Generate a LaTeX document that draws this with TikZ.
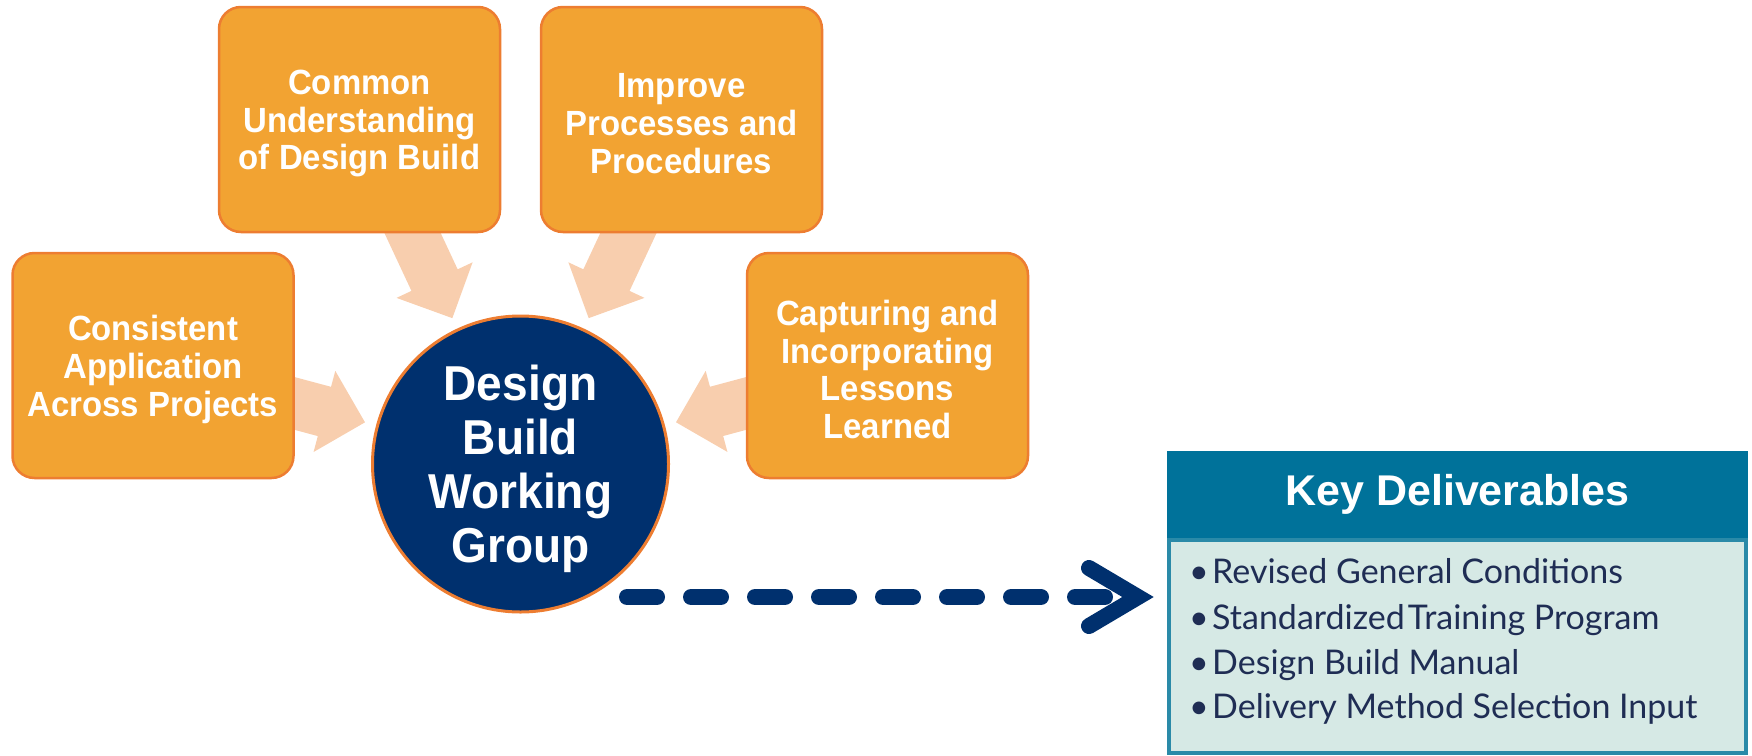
\documentclass[tikz,border=0pt]{standalone}
\usepackage{fontspec}
\setmainfont{Liberation Sans}
\newfontfamily\boxfont[FakeStretch=0.94]{Liberation Sans Bold}
\newfontfamily\headfont{Liberation Sans Bold}
\newfontfamily\listfont{Lato}
\usetikzlibrary{calc}
\definecolor{boxfill}{HTML}{F2A332}
\definecolor{boxline}{HTML}{ED7D31}
\definecolor{arrowfill}{HTML}{F8CEAE}
\definecolor{navy}{HTML}{00306E}
\definecolor{teal}{HTML}{00729A}
\definecolor{bodyfill}{HTML}{D6E9E5}
\definecolor{bodyline}{HTML}{2A8AA8}
\definecolor{listtext}{HTML}{1F2D54}
\pgfdeclarelayer{bg}
\pgfsetlayers{bg,main}
\newcommand{\blockarr}[1]{%
  \path coordinate (T) at ($(dbwg.center)!161pt!(#1.center)$)
        coordinate (S) at (#1.center);
  \path coordinate (H) at ($(T)!42pt!(S)$);
  \fill[arrowfill] ($(S)!25.5pt!90:(T)$) -- ($(H)!25.5pt!90:(T)$) -- ($(H)!42pt!90:(T)$)
     -- (T) -- ($(H)!42pt!-90:(T)$) -- ($(H)!25.5pt!-90:(T)$) -- ($(S)!25.5pt!-90:(T)$) -- cycle;}
\begin{document}
\begin{tikzpicture}[x=1pt,y=-1pt,
  obox/.style={rectangle, rounded corners=22pt, fill=boxfill, draw=boxline, line width=2.5pt,
    minimum width=281pt, minimum height=225pt, inner sep=0pt},
  boxtext/.style={inner sep=0pt, text=white, align=center,
    font=\boxfont\fontsize{35}{37.7}\selectfont},
  hub/.style={circle, minimum size=296pt, inner sep=0pt, fill=navy, draw=boxline, line width=3pt},
  hubtext/.style={inner sep=0pt, text=white, align=center,
    font=\boxfont\fontsize{49}{54}\selectfont},
  listitem/.style={anchor=base west, inner sep=0pt, text=listtext,
    font=\listfont\fontsize{34}{40}\selectfont},
  flow/.style={navy, line width=16pt, line cap=round}]
\useasboundingbox (0,0) rectangle (1752,755);

\node[obox] (cub) at (359.5,119.5) {};
\node[obox] (ipp) at (681.5,119.5) {};
\node[obox] (cap) at (153,365.5) {};
\node[obox] (cil) at (887.5,365.5) {};
\node[hub] (dbwg) at (520.5,464) {};

\node[boxtext] (cubt) at ($(cub.center)+(0,4)$) {Common\\Understanding\\of Design Build};
\node[boxtext] (ippt) at ($(ipp.center)+(0,4)$) {Improve\\Processes and\\Procedures};
\node[boxtext] (capt) at ($(cap.center)+(0,4)$) {Consistent\\Application\\Across Projects};
\node[boxtext] (cilt) at ($(cil.center)+(0,4)$) {Capturing and\\Incorporating\\Lessons\\Learned};
\node[hubtext] (dbwgt) at ($(dbwg.center)+(0,5)$) {Design\\Build\\Working\\Group};

\begin{pgfonlayer}{bg}
  \blockarr{cub}
  \blockarr{ipp}
  \blockarr{cap}
  \blockarr{cil}
\end{pgfonlayer}

% Key deliverables panel
\node[rectangle, fill=teal, minimum width=581pt, minimum height=87pt, inner sep=0pt,
  text=white, font=\headfont\fontsize{43}{50}\selectfont] (kdh) at (1457.5,494.5) {Key Deliverables};
\node[rectangle, fill=bodyfill, draw=bodyline, line width=4pt, minimum width=577pt,
  minimum height=213pt, inner sep=0pt] (kdb) at (1457.5,646) {};

\node[listitem] (l1) at (1189,583) {\makebox[23pt][l]{•}Revised General Conditions};
\node[listitem] (l2) at (1189,629) {\makebox[23pt][l]{•}Standardized\hspace{3pt}Training Program};
\node[listitem] (l3) at (1189,674) {\makebox[23pt][l]{•}Design Build Manual};
\node[listitem] (l4) at (1189,718) {\makebox[23pt][l]{•}Delivery Method Selection Input};

% dashed flow arrow
\coordinate (dstart) at (627,597);
\coordinate (dend) at (1138,597);
\draw[flow, dash pattern=on 30pt off 34pt] (dstart) -- (dend);
\draw[flow, line join=miter] ($(dend)+(-49,-29)$) -- (dend) -- ($(dend)+(-49,29)$);
\end{tikzpicture}
\end{document}
